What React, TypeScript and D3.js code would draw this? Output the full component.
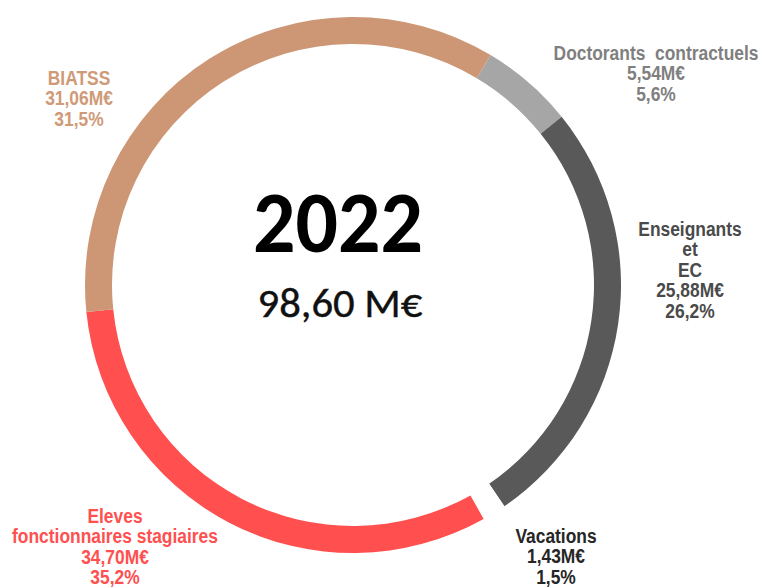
import React from "react";
import * as d3 from "d3";

// Segments in ring order (clockwise from the top-right)
const categories = ["Doctorants contractuels", "Enseignants et EC", "Vacations", "Eleves fonctionnaires stagiaires", "BIATSS"];
// Arc sizes (M€)
const ringValues = [5.54, 25.88, 1.43, 31.06, 34.70];
// Label texts as printed
const labelLines: string[][] = [
  ["Doctorants\u00a0 contractuels", "5,54M€", "5,6%"],
  ["Enseignants", "et", "EC", "25,88M€", "26,2%"],
  ["Vacations", "1,43M€", "1,5%"],
  ["Eleves", "fonctionnaires stagiaires", "34,70M€", "35,2%"],
  ["BIATSS", "31,06M€", "31,5%"],
];
const yearLabel = "2022";
const totalLabel = "98,60 M€";

// Styles / layout (kept apart from the data)
const ringColors = ["#A6A6A6", "#595959", "#FFFFFF", "#FF4F4F", "#CD9775"];
const textColors = ["#7F7F7F", "#4A4A4A", "#262626", "#FF5050", "#CF9A78"];
const labelPos = [
  { x: 656, y: 60 },
  { x: 690, y: 236 },
  { x: 556, y: 543 },
  { x: 115, y: 523 },
  { x: 79, y: 85 },
];
const W = 762;
const H = 588;
const cx = 353;
const cy = 285;
const outerR = 268;
const innerR = 241;
const startDeg = 30.9;
const lineH = 20.5;

export default function App() {
  const start = (startDeg * Math.PI) / 180;
  const pie = d3
    .pie<number>()
    .sort(null)
    .value((d) => d)
    .startAngle(start)
    .endAngle(start + 2 * Math.PI);
  const arcs = pie(ringValues);
  const arcGen = d3.arc<d3.PieArcDatum<number>>().innerRadius(innerR).outerRadius(outerR);
  const font = "'Liberation Sans', Arial, sans-serif";

  return (
    <svg
      width={W}
      height={H}
      viewBox={`0 0 ${W} ${H}`}
      style={{ position: "absolute", left: 0, top: 0, background: "#fff" }}
    >
      <rect x={0} y={0} width={W} height={H} fill="#fff" />
      <g transform={`translate(${cx},${cy})`}>
        {arcs.map((a, i) => (
          <path key={categories[i]} d={arcGen(a) || ""} fill={ringColors[i]} />
        ))}
      </g>
      <text
        x={338}
        y={252}
        textAnchor="middle"
        fontFamily="Carlito, 'Open Sans', sans-serif"
        fontWeight="bold"
        fontSize={86}
        fill="#000"
        textLength={170}
        lengthAdjust="spacingAndGlyphs"
      >
        {yearLabel}
      </text>
      <text
        x={340}
        y={317}
        textAnchor="middle"
        fontFamily="Carlito, 'Open Sans', sans-serif"
        fontWeight="normal"
        fontSize={40}
        fill="#111"
        stroke="#111"
        strokeWidth={0.4}
        textLength={165}
        lengthAdjust="spacingAndGlyphs"
      >
        {totalLabel}
      </text>
      {labelLines.map((lines, i) => (
        <g
          key={categories[i]}
          transform={`translate(${labelPos[i].x},${labelPos[i].y}) scale(0.87,1)`}
        >
          {lines.map((ln, j) => (
            <text
              key={j}
              x={0}
              y={j * lineH}
              textAnchor="middle"
              fontFamily={font}
              fontWeight="bold"
              fontSize={20}
              fill={textColors[i]}
            >
              {ln}
            </text>
          ))}
        </g>
      ))}
    </svg>
  );
}
